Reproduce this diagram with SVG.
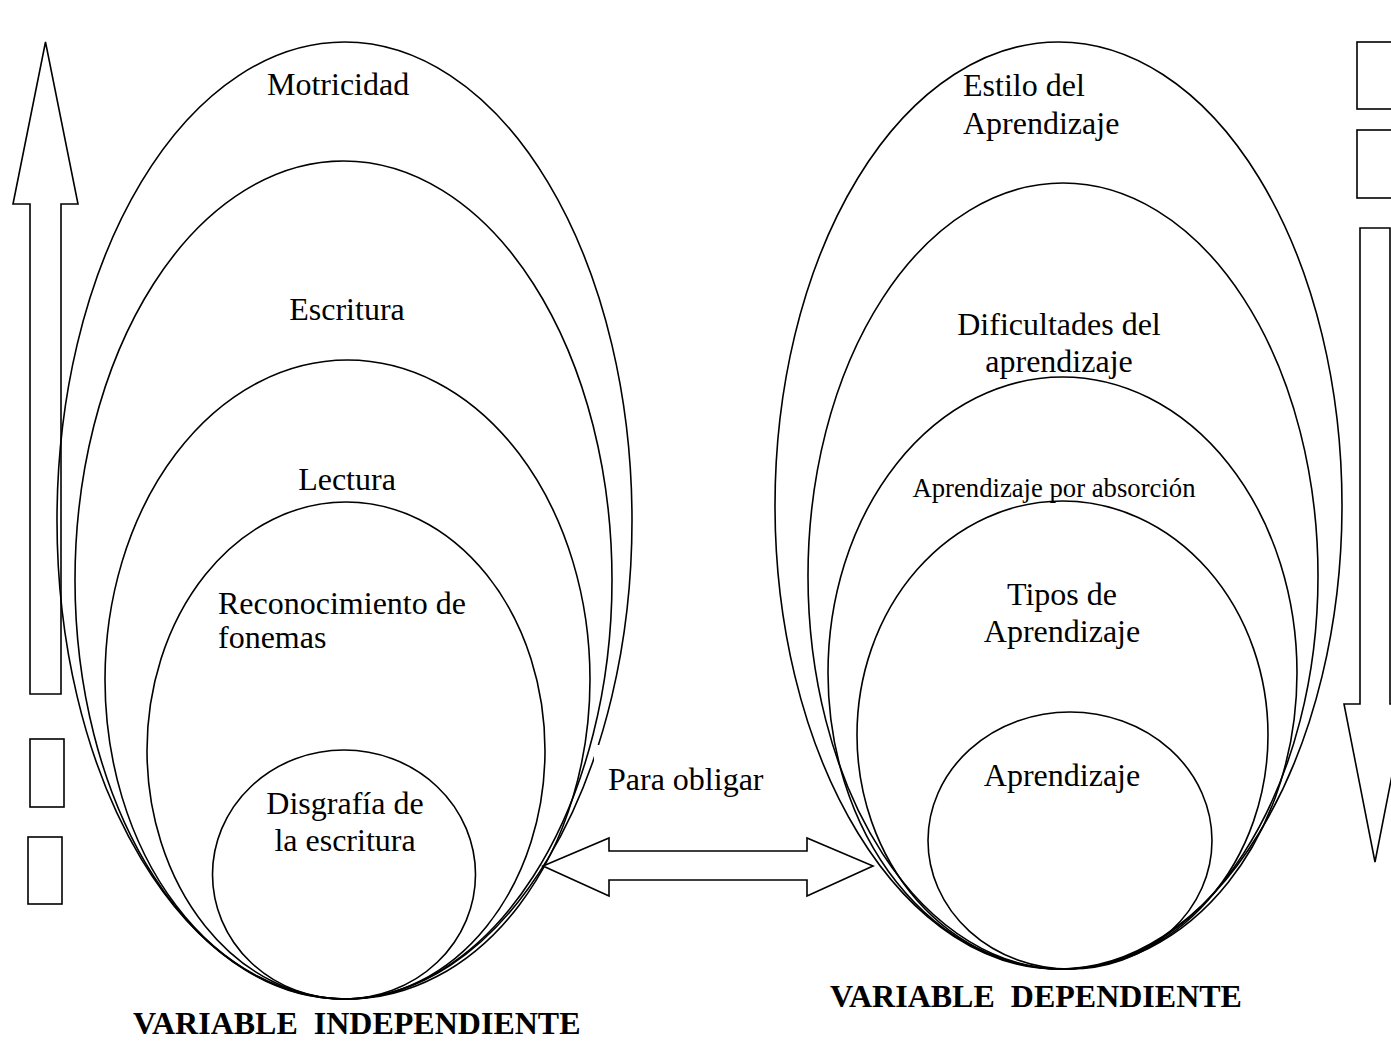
<svg xmlns="http://www.w3.org/2000/svg" width="1391" height="1046" viewBox="0 0 1391 1046">
<style>
.s{fill:none;stroke:#000;stroke-width:1.6}
.w{fill:#fff;stroke:#000;stroke-width:1.6}
.t{font-family:"Liberation Serif","Times New Roman",serif;font-size:32px;fill:#000}
.sm{font-size:26.7px}
.b{font-weight:bold}
.m{text-anchor:middle}
</style>
<rect width="1391" height="1046" fill="#fff"/>
<g id="arrow-up"><polygon class="w" points="30,694 30,204 13,204 45.5,42 78,204 61,204 61,694"/></g>
<g id="rects-left">
<rect class="w" x="30" y="739" width="34" height="68"/>
<rect class="w" x="28" y="837" width="34" height="67"/>
</g>
<g id="rects-right">
<rect class="w" x="1357" y="42" width="40" height="67"/>
<rect class="w" x="1357" y="130" width="40" height="68"/>
</g>
<g id="arrow-down"><polygon class="w" points="1360,228 1390,228 1390,704 1406,704 1375,862 1344,704 1360,704"/></g>
<g id="left-ellipses">
<g id="motricidad"><ellipse class="s" cx="344.5" cy="520.5" rx="287.5" ry="478.5"/><text class="t" x="267" y="95">Motricidad</text></g>
<g id="escritura"><ellipse class="s" cx="343.5" cy="580" rx="268.5" ry="419"/><text class="t m" x="347" y="320">Escritura</text></g>
<g id="lectura"><ellipse class="s" cx="347.5" cy="679.5" rx="242.5" ry="319.5"/><text class="t m" x="347" y="490">Lectura</text></g>
<g id="reconocimiento"><ellipse class="s" cx="346" cy="750.5" rx="199" ry="248.5"/><text class="t" x="218" y="614">Reconocimiento de</text><text class="t" x="218" y="648">fonemas</text></g>
<g id="disgrafia"><ellipse class="s" cx="344" cy="874.5" rx="131.5" ry="124.5"/><text class="t m" x="345" y="814">Disgrafía de</text><text class="t m" x="345" y="851">la escritura</text></g>
</g>
<g id="right-ellipses">
<g id="estilo"><ellipse class="s" cx="1058.5" cy="505.5" rx="283.5" ry="463.5"/><text class="t" x="963" y="96">Estilo del</text><text class="t" x="963" y="134">Aprendizaje</text></g>
<g id="dificultades"><ellipse class="s" cx="1063" cy="576" rx="255" ry="393"/><text class="t m" x="1059" y="335">Dificultades del</text><text class="t m" x="1059" y="372">aprendizaje</text></g>
<g id="absorcion"><ellipse class="s" cx="1062.5" cy="673" rx="234.5" ry="296"/><text class="t sm m" x="1054" y="497">Aprendizaje por absorción</text></g>
<g id="tipos"><ellipse class="s" cx="1062.5" cy="735" rx="205.5" ry="234"/><text class="t m" x="1062" y="605">Tipos de</text><text class="t m" x="1062" y="642">Aprendizaje</text></g>
<g id="aprendizaje"><ellipse class="s" cx="1070" cy="840.5" rx="142" ry="128.5"/><text class="t m" x="1062" y="786">Aprendizaje</text></g>
</g>
<g id="connectors">
<rect x="594" y="745" width="190" height="42" fill="#fff"/>
<text class="t" x="608" y="790">Para obligar</text>
<polygon class="w" points="543,866 609,838 609,851 807,851 807,838 873,866 807,896 807,880 609,880 609,896"/>
</g>
<g id="labels">
<text class="t b" x="133" y="1034" xml:space="preserve">VARIABLE  INDEPENDIENTE</text>
<text class="t b" x="830" y="1007" xml:space="preserve">VARIABLE  DEPENDIENTE</text>
</g>
</svg>
